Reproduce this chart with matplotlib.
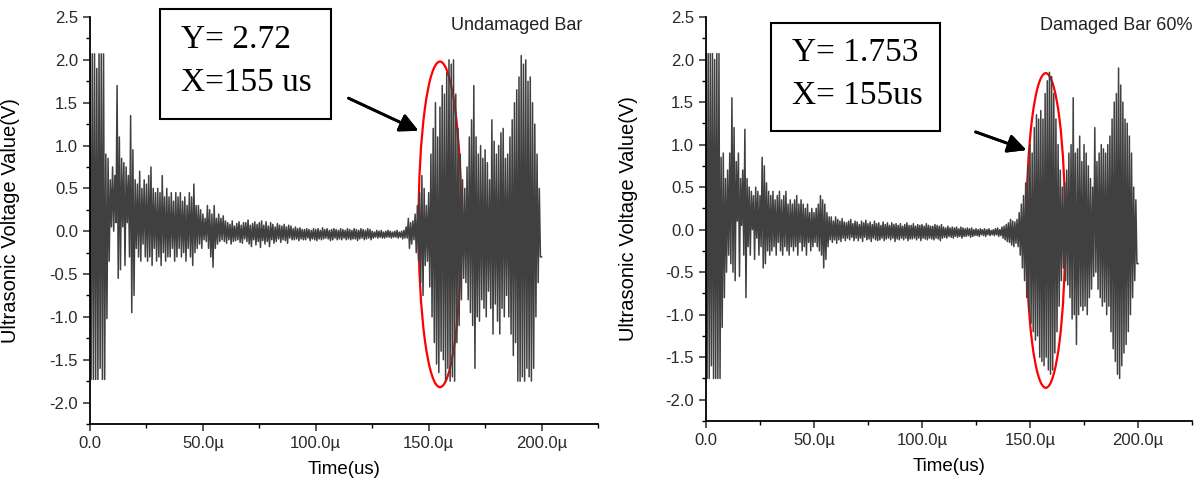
import matplotlib
matplotlib.use("Agg")
import matplotlib.pyplot as plt
from matplotlib.patches import Ellipse, Rectangle
from matplotlib.ticker import MultipleLocator, FuncFormatter
import numpy as np

plt.rcParams['font.family'] = ['Liberation Sans', 'DejaVu Sans']

# sampling step of the peak lists below (microseconds)
step_us = 0.5

# undamaged bar: alternating peak values, one row = 5 us
undamaged = [
    2.07, -1.73, 2.07, -1.73, 2.07, -1.73, 1.9, -1.73, 2.07, -1.6,
    2.07, -1.73, 2.07, -1.73, 0.9, -1.02, 0.85, -0.35, 0.6, 0.05,
    0.75, 0.0, 0.65, 0.1, 1.7, -0.55, 1.1, -0.45, 0.85, 0.05,
    0.8, -0.4, 0.75, 0.1, 0.65, -0.3, 1.35, -0.95, 0.95, -0.75,
    0.6, -0.2, 0.55, -0.3, 0.7, -0.35, 0.5, -0.15, 0.6, -0.3,
    0.55, -0.35, 0.65, -0.3, 0.75, -0.4, 0.5, -0.2, 0.45, -0.35,
    0.5, -0.3, 0.45, -0.4, 0.65, -0.25, 0.4, -0.35, 0.5, -0.3,
    0.4, -0.3, 0.45, -0.2, 0.35, -0.35, 0.45, -0.3, 0.4, -0.2,
    0.45, -0.3, 0.35, -0.25, 0.4, -0.35, 0.3, -0.2, 0.45, -0.3,
    0.4, -0.4, 0.55, -0.25, 0.3, -0.2, 0.3, -0.15, 0.25, -0.2,
    0.2, -0.1, 0.15, -0.12, 0.3, -0.2, 0.25, -0.3, 0.2, -0.42,
    0.3, -0.2, 0.15, -0.15, 0.2, -0.12, 0.15, -0.1, 0.18, -0.12,
    0.12, -0.14, 0.1, -0.1, 0.08, -0.15, 0.12, -0.12, 0.06, -0.11,
    0.09, -0.1, 0.11, -0.13, 0.07, -0.14, 0.1, -0.09, 0.1, -0.12,
    0.13, -0.15, 0.07, -0.18, 0.09, -0.1, 0.11, -0.16, 0.08, -0.12,
    0.1, -0.19, 0.12, -0.11, 0.07, -0.15, 0.11, -0.12, 0.06, -0.18,
    0.1, -0.1, 0.08, -0.14, 0.05, -0.12, 0.09, -0.09, 0.07, -0.13,
    0.06, -0.1, 0.08, -0.11, 0.05, -0.14, 0.07, -0.08, 0.06, -0.1,
    0.03, -0.1, 0.05, -0.09, 0.03, -0.11, 0.04, -0.09, 0.02, -0.1,
    0.02, -0.1, 0.03, -0.08, 0.02, -0.11, 0.01, -0.09, 0.03, -0.1,
    0.02, -0.11, 0.03, -0.09, 0.01, -0.1, 0.04, -0.09, 0.02, -0.08,
    0.03, -0.09, 0.01, -0.11, 0.02, -0.1, 0.03, -0.08, 0.02, -0.1,
    0.01, -0.09, 0.03, -0.1, 0.02, -0.08, 0.01, -0.1, 0.03, -0.09,
    0.02, -0.1, 0.01, -0.09, 0.03, -0.09, 0.02, -0.11, 0.01, -0.09,
    0.03, -0.08, 0.02, -0.1, 0.01, -0.09, 0.03, -0.08, 0.02, -0.1,
    0.0, -0.08, -0.01, -0.07, 0.01, -0.08, 0.0, -0.07, 0.01, -0.08,
    -0.01, -0.08, 0.0, -0.07, 0.01, -0.07, 0.0, -0.08, -0.01, -0.07,
    0.0, -0.07, 0.01, -0.08, -0.01, -0.07, 0.0, -0.09, 0.01, -0.08,
    0.05, -0.08, 0.15, -0.2, 0.1, -0.15, 0.12, -0.1, 0.2, -0.25,
    0.3, -0.35, 0.45, -0.6, 0.65, -0.75, 0.5, -0.4, 0.3, -0.35,
    0.45, -0.65, 0.9, -1.0, 1.2, -1.3, 1.5, -1.55, 1.1, -1.65,
    1.45, -1.4, 1.7, -1.5, 1.6, -1.75, 1.85, -1.6, 2.0, -1.75,
    1.95, -1.7, 2.0, -1.75, 1.6, -1.3, 1.2, -1.1, 0.9, -0.8,
    0.6, -0.55, 0.5, -0.6, 0.75, -0.8, 1.1, -0.95, 1.3, -1.1,
    1.7, -1.6, 1.1, -1.0, 0.9, -1.05, 1.0, -0.8, 0.85, -0.9,
    0.95, -1.0, 0.8, -0.7, 0.6, -0.9, 1.3, -1.2, 1.05, -0.85,
    0.9, -1.05, 1.0, -1.2, 1.15, -0.9, 1.2, -1.0, 0.85, -0.75,
    0.9, -1.0, 1.1, -1.2, 1.3, -1.45, 1.5, -1.3, 1.65, -1.75,
    1.8, -1.75, 2.05, -1.7, 1.95, -1.75, 2.0, -1.6, 1.75, -1.7,
    1.8, -1.75, 1.5, -1.6, 1.25, -1.0, 0.9, -0.6, 0.5, -0.3,
    -0.3,
]

# damaged bar (60%)
damaged = [
    2.07, -1.75, 2.07, -1.75, 2.07, -1.6, 2.07, -1.75, 2.0, -1.75,
    2.07, -1.75, 2.07, -1.75, 0.85, -1.15, 0.9, -0.8, 0.6, -0.5,
    0.7, -0.3, 0.9, -0.4, 1.55, -0.5, 1.2, -0.6, 0.8, 0.1,
    0.9, -0.55, 0.6, 0.05, 0.7, -0.3, 1.18, -0.8, 0.6, -0.2,
    0.5, -0.3, 0.45, 0.0, 0.4, -0.35, 0.5, -0.1, 0.45, -0.3,
    0.4, -0.2, 0.85, -0.45, 0.75, -0.4, 0.55, -0.25, 0.45, -0.3,
    0.4, -0.25, 0.45, -0.2, 0.35, -0.3, 0.4, -0.15, 0.45, -0.25,
    0.35, -0.3, 0.4, -0.2, 0.45, -0.25, 0.3, -0.3, 0.35, -0.2,
    0.3, -0.25, 0.35, -0.2, 0.4, -0.3, 0.3, -0.15, 0.35, -0.25,
    0.3, -0.2, 0.25, -0.3, 0.3, -0.15, 0.2, -0.25, 0.25, -0.2,
    0.2, -0.15, 0.25, -0.2, 0.3, -0.25, 0.4, -0.3, 0.35, -0.45,
    0.3, -0.35, 0.2, -0.2, 0.15, -0.12, 0.15, -0.15, 0.1, -0.12,
    0.15, -0.16, 0.12, -0.12, 0.1, -0.14, 0.13, -0.1, 0.09, -0.13,
    0.08, -0.1, 0.1, -0.12, 0.12, -0.09, 0.07, -0.13, 0.1, -0.1,
    0.09, -0.13, 0.06, -0.1, 0.1, -0.14, 0.08, -0.09, 0.11, -0.12,
    0.07, -0.11, 0.09, -0.14, 0.06, -0.1, 0.1, -0.12, 0.07, -0.13,
    0.08, -0.12, 0.05, -0.1, 0.09, -0.13, 0.06, -0.11, 0.08, -0.1,
    0.05, -0.12, 0.08, -0.1, 0.06, -0.14, 0.07, -0.11, 0.05, -0.12,
    0.07, -0.1, 0.04, -0.12, 0.06, -0.1, 0.08, -0.13, 0.05, -0.11,
    0.05, -0.11, 0.07, -0.1, 0.04, -0.12, 0.06, -0.1, 0.05, -0.13,
    0.06, -0.1, 0.04, -0.11, 0.07, -0.12, 0.05, -0.1, 0.04, -0.11,
    0.04, -0.12, 0.06, -0.1, 0.05, -0.11, 0.04, -0.13, 0.06, -0.1,
    0.03, -0.09, 0.02, -0.1, 0.04, -0.08, 0.02, -0.09, 0.03, -0.1,
    0.02, -0.08, 0.03, -0.09, 0.01, -0.08, 0.03, -0.1, 0.02, -0.08,
    0.01, -0.08, 0.02, -0.07, 0.01, -0.09, 0.02, -0.08, 0.0, -0.07,
    0.01, -0.07, 0.0, -0.08, 0.01, -0.06, 0.0, -0.07, 0.01, -0.08,
    0.0, -0.06, 0.01, -0.07, -0.01, -0.06, 0.0, -0.07, 0.01, -0.06,
    0.02, -0.08, 0.0, -0.07, 0.03, -0.1, 0.04, -0.12, 0.06, -0.14,
    0.08, -0.15, 0.12, -0.18, 0.1, -0.2, 0.09, -0.16, 0.12, -0.2,
    0.2, -0.3, 0.3, -0.45, 0.4, -0.6, 0.55, -0.8, 0.75, -0.95,
    1.0, -1.1, 0.9, -1.2, 1.2, -1.3, 1.35, -1.25, 1.3, -1.5,
    1.4, -1.55, 1.3, -1.6, 1.6, -1.5, 1.75, -1.65, 1.85, -1.7,
    1.8, -1.65, 1.6, -1.45, 1.3, -1.2, 1.0, -0.9, 0.7, -0.6,
    0.5, -0.45, 0.55, -0.6, 0.7, -0.65, 0.9, -0.8, 1.0, -1.05,
    1.55, -1.0, 0.9, -1.35, 0.95, -1.0, 1.1, -0.9, 0.8, -0.95,
    1.0, -0.9, 0.9, -1.0, 0.75, -0.8, 0.6, -0.7, 0.5, -0.55,
    1.2, -0.5, 0.8, -0.7, 0.9, -0.8, 1.0, -0.9, 0.95, -0.85,
    0.9, -1.0, 1.0, -0.9, 1.1, -1.2, 1.3, -1.4, 1.5, -1.55,
    1.6, -1.7, 1.9, -1.75, 1.7, -1.6, 1.5, -1.45, 1.3, -1.35,
    1.25, -1.2, 1.1, -1.0, 0.9, -0.8, 0.5, -0.6, 0.35, -0.4,
    -0.4,
]

panel_titles = ["Undamaged Bar", "Damaged Bar 60%"]
box_lines = [["Y= 2.72", "X=155 us"], ["Y= 1.753", "X= 155us"]]
# ellipse centre (us, V) and size
ellipses = [(155.0, 0.08, 19.0, 3.8), (157.3, -0.01, 18.0, 3.7)]

W, H = 1203, 490
fig = plt.figure(figsize=(W / 100, H / 100), dpi=100)


def fx(x, y):
    return (x / W, 1 - y / H)


axes_px = [(90, 424, 508, 407), (706, 421, 486, 404)]
box_px = [(160, 9, 171, 110), (771, 23, 169, 108)]
text_px = [((181, 40), (181, 83)), ((792, 53), (792, 96))]
arrow_px = [((346, 97), (421, 132)), ((973, 131), (1029, 151))]
title_px = [(582, 26), (1192, 26)]
ylabel_px = [20, 638]

for i, vals in enumerate([undamaged, damaged]):
    l, b, w, h = axes_px[i]
    ax = fig.add_axes([l / W, 1 - b / H, w / W, h / H])
    t = np.arange(len(vals)) * step_us
    ax.plot(t, vals, color="#404040", lw=1.1)
    ax.set_xlim(0, 225)
    ax.set_ylim(-2.25, 2.5)
    for s in ["top", "right"]:
        ax.spines[s].set_visible(False)
    ax.spines["left"].set_linewidth(1.3)
    ax.spines["bottom"].set_linewidth(1.3)
    ax.xaxis.set_major_locator(MultipleLocator(50))
    ax.xaxis.set_minor_locator(MultipleLocator(25))
    ax.yaxis.set_major_locator(MultipleLocator(0.5))
    ax.yaxis.set_minor_locator(MultipleLocator(0.25))
    ax.xaxis.set_major_formatter(FuncFormatter(lambda v, p: "0.0" if v == 0 else "%.1fµ" % v))
    ax.yaxis.set_major_formatter(FuncFormatter(lambda v, p: "%.1f" % v))
    ax.tick_params(which="major", length=5, width=1.1, labelsize=12, colors="#2a2a2a")
    ax.tick_params(which="minor", length=3, width=1.0)
    ax.set_xlabel("Time(us)", fontsize=13.5, labelpad=7)
    ax.yaxis.set_label_coords((ylabel_px[i] - l) / w, 0.5)
    ax.set_ylabel("Ultrasonic Voltage Value(V)", fontsize=14.5)
    cx, cy, ew, eh = ellipses[i]
    ax.add_patch(Ellipse((cx, cy), ew, eh, fill=False, edgecolor="red", lw=1.6, clip_on=False))

    fig.text(*fx(*title_px[i]), panel_titles[i], ha="right", va="center", fontsize=13, color="#222222")

    bx, by, bw, bh = box_px[i]
    fig.add_artist(Rectangle(fx(bx, by + bh), bw / W, bh / H, transform=fig.transFigure,
                             fill=False, edgecolor="black", lw=1.5))
    for (tx, ty), line in zip(text_px[i], box_lines[i]):
        fig.text(*fx(tx, ty), line, ha="left", va="center", fontsize=24,
                 family="Liberation Serif")

    (x0, y0), (x1, y1) = arrow_px[i]
    fig.add_artist(plt.annotate("", xy=fx(x1, y1), xytext=fx(x0, y0),
                                xycoords="figure fraction", textcoords="figure fraction",
                                arrowprops=dict(arrowstyle="-|>", color="black", lw=2,
                                                mutation_scale=28)))

fig.savefig("out.png", dpi=100)
